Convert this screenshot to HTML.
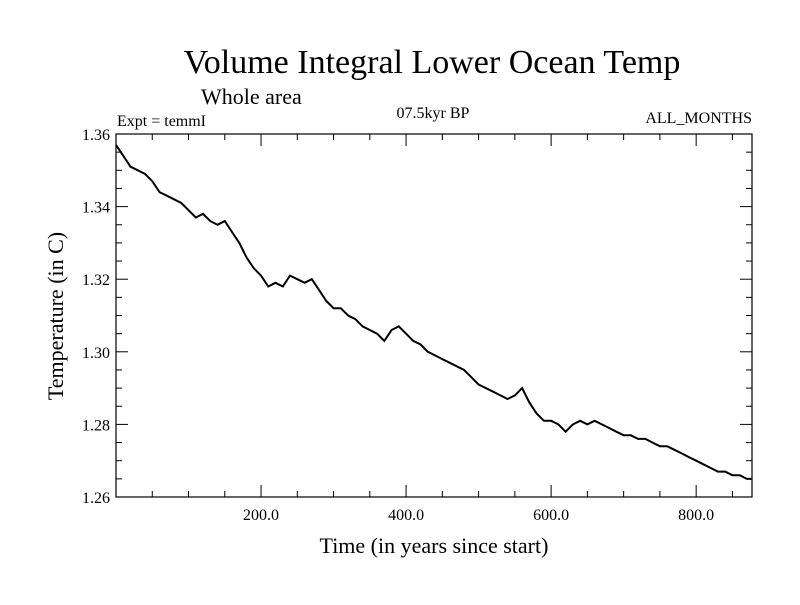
<!DOCTYPE html>
<html><head><meta charset="utf-8"><style>
body{margin:0;background:#fff}
svg text{font-family:"Liberation Serif",serif;fill:#000}
</style></head><body>
<svg id="chart" width="800" height="600" xmlns="http://www.w3.org/2000/svg">
<text x="432" y="73" font-size="34" text-anchor="middle">Volume Integral Lower Ocean Temp</text>
<text x="201" y="104" font-size="22">Whole area</text>
<text x="117" y="126" font-size="16">Expt = temmI</text>
<text x="433" y="118" font-size="16" text-anchor="middle">07.5kyr BP</text>
<text x="752" y="123" font-size="16" text-anchor="end">ALL_MONTHS</text>
<text x="434" y="553" font-size="22" text-anchor="middle">Time (in years since start)</text>
<text transform="translate(63,316) rotate(-90)" font-size="22" text-anchor="middle">Temperature (in C)</text>
<g id="axes"></g>
<rect x="116" y="134" width="636" height="363" fill="none" stroke="#000" stroke-width="1.2"/>
<path id="series" fill="none" stroke="#000" stroke-width="2"/>
</svg>
<script>
const years=[0,10,20,30,40,50,60,70,80,90,100,110,120,130,140,150,160,170,180,190,200,210,220,230,240,250,260,270,280,290,300,310,320,330,340,350,360,370,380,390,400,410,420,430,440,450,460,470,480,490,500,510,520,530,540,550,560,570,580,590,600,610,620,630,640,650,660,670,680,690,700,710,720,730,740,750,760,770,780,790,800,810,820,830,840,850,860,870,876];
const temps=[1.357,1.354,1.351,1.350,1.349,1.347,1.344,1.343,1.342,1.341,1.339,1.337,1.338,1.336,1.335,1.336,1.333,1.330,1.326,1.323,1.321,1.318,1.319,1.318,1.321,1.320,1.319,1.320,1.317,1.314,1.312,1.312,1.310,1.309,1.307,1.306,1.305,1.303,1.306,1.307,1.305,1.303,1.302,1.300,1.299,1.298,1.297,1.296,1.295,1.293,1.291,1.290,1.289,1.288,1.287,1.288,1.290,1.286,1.283,1.281,1.281,1.280,1.278,1.280,1.281,1.280,1.281,1.280,1.279,1.278,1.277,1.277,1.276,1.276,1.275,1.274,1.274,1.273,1.272,1.271,1.270,1.269,1.268,1.267,1.267,1.266,1.266,1.265,1.265];
const xTickLabels=["200.0","400.0","600.0","800.0"];
const yTickLabels=["1.26","1.28","1.30","1.32","1.34","1.36"];
const X0=116,X1=752,Y0=134,Y1=497,XMIN=0,XMAX=877,YMIN=1.26,YMAX=1.36;
const sx=v=>X0+(v-XMIN)/(XMAX-XMIN)*(X1-X0);
const sy=v=>Y1-(v-YMIN)/(YMAX-YMIN)*(Y1-Y0);
const NS="http://www.w3.org/2000/svg",g=document.getElementById('axes');
function ln(x1,y1,x2,y2,n){const l=document.createElementNS(NS,'line');l.setAttribute('x1',x1);l.setAttribute('y1',y1);l.setAttribute('x2',x2);l.setAttribute('y2',y2);l.setAttribute('stroke','#000');


g.appendChild(l);}
function tx(x,y,s,a,n){const t=document.createElementNS(NS,'text');t.setAttribute('x',x);t.setAttribute('y',y);t.setAttribute('font-size','16');t.setAttribute('text-anchor',a);t.textContent=s;


g.appendChild(t);}
for(let v=50;v<XMAX;v+=50){const x=sx(v),L=(v%200===0)?12:6;ln(x,Y1,x,Y1-L,'x-tick');ln(x,Y0,x,Y0+L,'x-tick-top');}
xTickLabels.forEach(s=>tx(sx(parseFloat(s)),Y1+23,s,'middle','x-tick-label'));
for(let i=0;i<=20;i++){const v=YMIN+i*0.005,y=sy(v),L=(i%4===0)?12:6;ln(X0,y,X0+L,y,'y-tick');ln(X1,y,X1-L,y,'y-tick-right');}
yTickLabels.forEach(s=>tx(X0-6,sy(parseFloat(s))+6,s,'end','y-tick-label'));
document.getElementById('series').setAttribute('d',years.map((y,i)=>(i?'L':'M')+sx(y).toFixed(1)+','+sy(temps[i]).toFixed(1)).join(''));
</script>
</body></html>
